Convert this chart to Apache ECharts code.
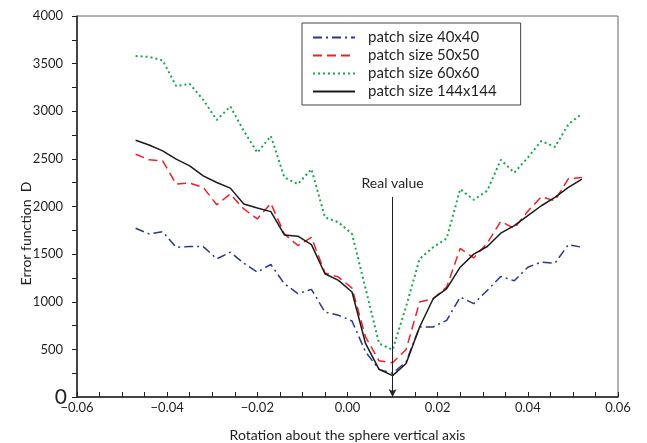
<!DOCTYPE html>
<html>
<head>
<meta charset="utf-8">
<script src="https://cdn.jsdelivr.net/npm/echarts@6/dist/echarts.min.js"></script>
<style>
    html, body {margin: 0; padding: 0; background: #fff;}
    #chart {width: 647px; height: 443px;}
</style>
</head>
<body>
<div id="chart"></div>
<script>
// 旋转角 (x 轴)
var rotation = [-0.047, -0.044, -0.041, -0.038, -0.035, -0.032, -0.029, -0.026, -0.023, -0.020,
    -0.017, -0.014, -0.011, -0.008, -0.005, -0.002, 0.001, 0.004, 0.007, 0.010,
    0.013, 0.016, 0.019, 0.022, 0.025, 0.028, 0.031, 0.034, 0.037, 0.040,
    0.043, 0.046, 0.049, 0.052];

var patch40 = [1771, 1712, 1736, 1572, 1579, 1579, 1451, 1520, 1405, 1311,
    1391, 1189, 1085, 1130, 892, 858, 798, 474, 290, 250,
    369, 735, 735, 805, 1049, 980, 1119, 1266, 1220, 1363,
    1416, 1405, 1600, 1572];
var patch50 = [2549, 2490, 2479, 2235, 2246, 2200, 2019, 2131, 1974, 1870,
    2033, 1712, 1590, 1677, 1301, 1259, 1143, 631, 380, 359,
    499, 997, 1032, 1154, 1560, 1460, 1615, 1844, 1770, 1950,
    2102, 2060, 2293, 2304];
var patch60 = [3580, 3570, 3535, 3264, 3288, 3120, 2908, 3051, 2793, 2566,
    2740, 2305, 2235, 2392, 1886, 1834, 1712, 1140, 562, 495,
    950, 1451, 1572, 1665, 2183, 2070, 2165, 2490, 2355, 2514,
    2688, 2625, 2863, 2974];
var patch144 = [2695, 2646, 2584, 2497, 2427, 2322, 2252, 2193, 2026, 1985,
    1946, 1702, 1688, 1600, 1294, 1224, 1102, 562, 290, 225,
    352, 735, 1032, 1137, 1363, 1500, 1580, 1720, 1799, 1904,
    2008, 2095, 2200, 2288];

var seriesNames = ['patch size 40x40', 'patch size 50x50', 'patch size 60x60', 'patch size 144x144'];

// 真实值标注
var realValue = 0.01;
var realTop = 2100;

var font = 'Lato';
var textColor = '#231f20';

function pairs(ys) {
    var out = [];
    for (var i = 0; i < rotation.length; i++) {
        out.push([rotation[i], ys[i]]);
    }
    return out;
}

var myChart = echarts.init(document.getElementById('chart'));
var option = {
    animation: false,
    grid: {
        left: 77,
        right: 29,
        top: 16,
        bottom: 46,
        show: true,
        borderColor: '#666',
        borderWidth: 1,
        outerBoundsMode: 'none'
    },
    legend: {
        orient: 'vertical',
        left: 302,
        top: 23,
        itemWidth: 42,
        itemHeight: 12,
        itemGap: 3,
        borderColor: '#444',
        borderWidth: 1,
        padding: [7, 24, 6, 10],
        itemStyle: {opacity: 0},
        textStyle: {
            fontFamily: font,
            fontSize: 15,
            color: textColor,
            padding: [0, 22, 0, 8]
        },
        data: seriesNames
    },
    xAxis: {
        type: 'value',
        min: -0.06,
        max: 0.06,
        interval: 0.02,
        name: 'Rotation about the sphere vertical axis',
        nameLocation: 'middle',
        nameGap: 31,
        nameMoveOverlap: false,
        nameTextStyle: {fontFamily: font, fontSize: 14, color: textColor},
        axisLine: {show: true, onZero: false, lineStyle: {color: textColor, width: 1.5}},
        axisTick: {show: true, inside: true, length: 5, lineStyle: {color: textColor}},
        minorTick: {show: true, splitNumber: 4, length: 5, lineStyle: {color: textColor}},
        splitLine: {show: false},
        axisLabel: {
            fontFamily: font,
            fontSize: 13,
            color: textColor,
            margin: 4,
            formatter: function (v) {
                return (v < 0 ? '\u2212' : '') + Math.abs(v).toFixed(2);
            }
        }
    },
    yAxis: {
        type: 'value',
        min: 0,
        max: 4000,
        interval: 500,
        name: 'Error function  D',
        nameLocation: 'middle',
        nameGap: 44,
        nameMoveOverlap: false,
        nameTextStyle: {fontFamily: font, fontSize: 14, color: textColor, padding: [0, 54, 0, 0]},
        axisLine: {show: true, onZero: false, lineStyle: {color: textColor, width: 1.5}},
        axisTick: {show: true, inside: false, length: 5, lineStyle: {color: textColor}},
        minorTick: {show: true, splitNumber: 2, length: 5, lineStyle: {color: textColor}},
        splitLine: {show: false},
        axisLabel: {
            fontFamily: font,
            fontSize: 13,
            color: textColor,
            margin: 10,
            formatter: function (v) {
                if (v == 0) return '{big|0}';
                return '{n|' + v + '}';
            },
            rich: {
                big: {fontSize: 21, fontFamily: font, color: textColor},
                n: {fontSize: 13, fontFamily: font, color: textColor, padding: [0, 4, 0, 0]}
            }
        }
    },
    series: [
        {
            name: seriesNames[0],
            type: 'line',
            symbol: 'none',
            data: pairs(patch40),
            lineStyle: {color: '#2b3594', width: 1.5, type: [9, 4, 2, 4]},
            itemStyle: {color: '#2b3594'}
        },
        {
            name: seriesNames[1],
            type: 'line',
            symbol: 'none',
            data: pairs(patch50),
            lineStyle: {color: '#ec2227', width: 1.5, type: [9, 5]},
            itemStyle: {color: '#ec2227'}
        },
        {
            name: seriesNames[2],
            type: 'line',
            symbol: 'none',
            data: pairs(patch60),
            lineStyle: {color: '#14a84b', width: 2, type: [2, 3]},
            itemStyle: {color: '#14a84b'}
        },
        {
            name: seriesNames[3],
            type: 'line',
            symbol: 'none',
            data: pairs(patch144),
            lineStyle: {color: '#1a1a1a', width: 1.5, type: 'solid'},
            itemStyle: {color: '#1a1a1a'},
            markLine: {
                silent: true,
                symbol: ['none', 'arrow'],
                symbolSize: [6, 8],
                lineStyle: {color: textColor, width: 1, type: 'solid'},
                label: {
                    show: true,
                    position: 'start',
                    distance: 6,
                    formatter: 'Real value',
                    fontFamily: font,
                    fontSize: 14,
                    color: textColor
                },
                data: [[{coord: [realValue, realTop]}, {coord: [realValue, 0]}]]
            }
        }
    ]
};
myChart.setOption(option);
</script>
</body>
</html>
